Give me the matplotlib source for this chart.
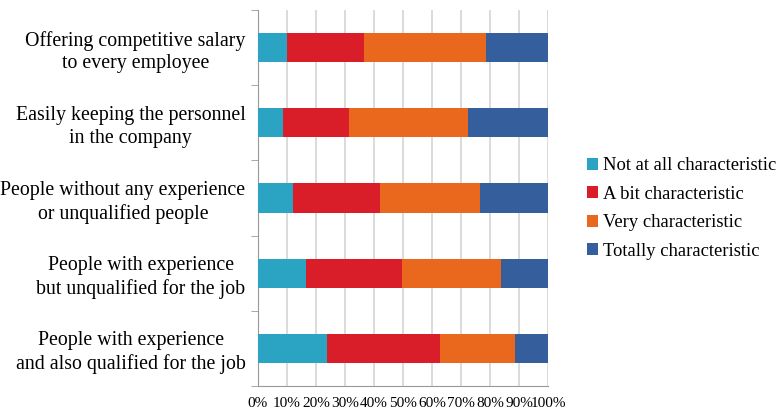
import matplotlib.pyplot as plt
import numpy as np

plt.rcParams['font.family'] = ['Liberation Serif', 'DejaVu Serif']

categories = ['Offering competitive salary\nto every employee',
              'Easily keeping the personnel\nin the company',
              'People without any experience\nor unqualified people',
              'People with experience\nbut unqualified for the job',
              'People with experience\nand also qualified for the job']
series = ['Not at all characteristic', 'A bit characteristic',
          'Very characteristic', 'Totally characteristic']
not_at_all = [10.0, 8.7, 12.2, 16.4, 23.9]
a_bit = [26.7, 22.7, 29.9, 33.4, 38.9]
very = [41.9, 40.9, 34.5, 34.0, 25.8]
totally = [21.4, 27.7, 23.4, 16.2, 11.4]
colors = ['#2BA3C3', '#D91E2A', '#EA671E', '#355F9C']

fig = plt.figure(figsize=(7.83, 4.09), dpi=100)
ax = fig.add_axes([258/783, 1-386/409, 290/783, 376/409])

y = np.arange(len(categories))
left = np.zeros(len(categories))
for vals, name, c in zip([not_at_all, a_bit, very, totally], series, colors):
    ax.barh(y, vals, left=left, height=0.39, color=c, label=name, zorder=3)
    left += np.array(vals)

ax.set_xlim(0, 100)
ax.set_ylim(4.5, -0.5)
ax.set_xticks(np.arange(0, 101, 10))
ax.set_xticklabels(['{0}%'.format(v) for v in range(0, 101, 10)], fontsize=11)
ax.set_yticks(y)
ax.set_yticklabels(categories, fontsize=14.3, ha='right', multialignment='center',
                   linespacing=1.25)
ax.tick_params(axis='y', length=0, pad=9)
ax.set_yticks(np.arange(-0.5, 5, 1), minor=True)
ax.tick_params(axis='y', which='minor', length=5, color='#999999')
ax.tick_params(axis='x', length=0, pad=8)
ax.grid(axis='x', color='#D4D4D4', linewidth=1.2, zorder=0)
for s in ['top', 'right']:
    ax.spines[s].set_visible(False)
ax.spines['left'].set_color('#999999')
ax.spines['bottom'].set_color('#999999')

fig.legend(loc='center left', bbox_to_anchor=(0.740, 0.49), frameon=False,
           fontsize=13.4, handlelength=0.6, handleheight=0.6, handletextpad=0.25,
           labelspacing=0.62, borderaxespad=0)

plt.savefig('out.png', dpi=100)
